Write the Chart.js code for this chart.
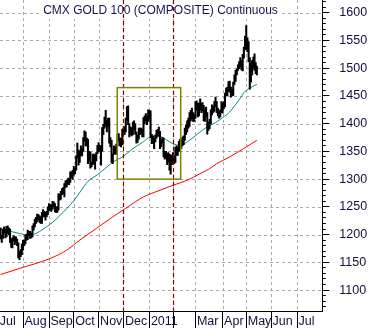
<!DOCTYPE html>
<html>
<head>
<meta charset="utf-8">
<script src="https://cdn.jsdelivr.net/npm/chart.js@4.4.0/dist/chart.umd.min.js"></script>
<style>
  html, body { margin: 0; padding: 0; background: #fff; }
  #wrap { width: 371px; height: 328px; position: relative; }
</style>
</head>
<body>
<div id="wrap"><canvas id="grafik"></canvas></div>
<script>
// === DATA ===
const judul = "CMX GOLD 100 (COMPOSITE) Continuous";

// trading-day index 0 = 1 Jul 2010; first bar drawn is day 2
const hariAwal = 2;

// daily lows / highs, Jul 2010 .. mid May 2011 (one line per month)
const lows = [
  1192,1186,1193,1203,1194,1196,1202,1200,1186,1177,1176,1188,1182,1185,1180,1158,1155,1160,1164,
  1172,1180,1183,1190,1191,1198,1193,1194,1196,1208,1214,1220,1223,1226,1222,1220,1220,1232,1232,1226,1232,1236,
  1243,1244,1242,1246,1250,1241,1240,1240,1244,1262,1264,1272,1274,1268,1285,1286,1291,1290,1294,1302,1300,
  1307,1310,1316,1338,1325,1330,1342,1342,1350,1368,1360,1360,1328,1334,1320,1322,1326,1328,1318,1333,1346,
  1349,1351,1325,1350,1380,1392,1395,1385,1394,1365,1358,1330,1328,1345,1345,1345,1360,1369,1360,1358,1362,
  1380,1380,1385,1405,1398,1376,1380,1378,1380,1390,1381,1365,1366,1372,1380,1382,1376,1376,1400,1405,1398,1404,
  1408,1375,1364,1365,1355,1367,1374,1378,1378,1355,1358,1365,1340,1336,1338,1326,1330,1316,1309,1326,
  1330,1328,1330,1343,1343,1350,1358,1355,1360,1362,1370,1380,1385,1392,1395,1405,1408,1404,1404,
  1410,1425,1412,1414,1425,1420,1423,1405,1404,1413,1381,1388,1391,1400,1416,1420,1422,1430,1420,1414,1410,1412,1420,
  1419,1427,1430,1450,1450,1458,1457,1448,1450,1451,1471,1476,1488,1496,1499,1502,1497,1495,1518,1533,
  1535,1530,1512,1462,1475,1488,1500,1496,1490,1488
];
const highs = [
  1212,1199,1210,1214,1210,1215,1216,1212,1210,1192,1194,1198,1196,1196,1192,1185,1170,1173,1183,
  1190,1190,1199,1201,1208,1206,1206,1203,1216,1220,1228,1231,1237,1236,1234,1232,1240,1245,1242,1240,1242,1250,
  1256,1254,1254,1260,1259,1256,1250,1250,1274,1273,1278,1283,1285,1292,1297,1298,1301,1302,1313,1313,1316,
  1323,1320,1342,1365,1353,1350,1360,1356,1375,1387,1385,1374,1372,1350,1349,1331,1345,1345,1344,1348,1361,
  1366,1361,1360,1393,1399,1412,1424,1406,1410,1410,1375,1370,1345,1360,1358,1363,1381,1382,1374,1374,1390,
  1392,1395,1410,1431,1432,1400,1394,1393,1403,1405,1400,1385,1380,1392,1392,1392,1390,1411,1414,1418,1414,1425,
  1424,1423,1381,1378,1374,1380,1388,1390,1394,1386,1371,1375,1374,1350,1350,1346,1348,1345,1344,1343,
  1348,1342,1358,1360,1358,1368,1372,1370,1376,1378,1392,1398,1405,1410,1420,1424,1428,1420,1416,
  1440,1441,1437,1437,1445,1437,1438,1433,1425,1430,1420,1403,1408,1425,1434,1432,1440,1448,1440,1428,1423,1425,1440,
  1437,1440,1455,1464,1466,1476,1477,1466,1462,1475,1488,1496,1499,1506,1512,1519,1514,1525,1538,1558,
  1577,1555,1548,1519,1510,1514,1520,1526,1510,1504
];

// moving averages (day index, price)
const tealDays = [2, 10, 18, 26, 32, 38, 46, 52, 58, 64, 70, 76, 84, 92, 98, 106, 114, 122, 130, 137, 143, 148, 154, 160, 168, 176, 184, 190, 196, 200, 205, 208, 213, 219];
const tealVals = [1210, 1206, 1202, 1199, 1202, 1210, 1222, 1234, 1247, 1261, 1279, 1296, 1308, 1322, 1332, 1341, 1355, 1366, 1377, 1377, 1370, 1364, 1361, 1367, 1380, 1393, 1402, 1411, 1421, 1432, 1446, 1456, 1464, 1471];
const redDays = [2, 18, 44, 58, 69, 83, 97, 109, 123, 137, 148, 160, 171, 179, 185, 196, 219];
const redVals = [1128, 1139, 1157, 1172, 1190, 1211, 1232, 1249, 1268, 1280, 1289, 1298, 1310, 1319, 1328, 1340, 1370];

// axis
const monthStarts = [0, 21, 43, 64, 85, 106, 128, 148, 167, 190, 210, 231, 253];
const monthLabels = ["Jul", "Aug", "Sep", "Oct", "Nov", "Dec", "2011", "", "Mar", "Apr", "May", "Jun", "Jul"];
const yTicks = [1100, 1150, 1200, 1250, 1300, 1350, 1400, 1450, 1500, 1550, 1600];

// annotations
const markerDays = [106, 148];
const boxDays = [100.8, 154.5];
const boxPrices = [1300, 1465];

const warnaGrid = "#a9a9a9";
const putus = [3, 3];

// === PLUGIN: dashed grid under the data ===
const gridPlugin = {
  id: "gridPutus",
  beforeDatasetsDraw(chart) {
    const ctx = chart.ctx;
    const area = chart.chartArea;
    const sx = chart.scales.x;
    const sy = chart.scales.y;
    ctx.save();
    ctx.strokeStyle = warnaGrid;
    ctx.lineWidth = 1;
    ctx.setLineDash(putus);
    sx.ticks.forEach(t => {
      const px = Math.round(sx.getPixelForValue(t.value)) + 0.5;
      if (px <= area.left || px >= area.right - 1) return;
      ctx.beginPath();
      ctx.moveTo(px, area.top);
      ctx.lineTo(px, area.bottom);
      ctx.stroke();
    });
    sy.ticks.forEach(t => {
      const py = Math.round(sy.getPixelForValue(t.value)) + 0.5;
      ctx.beginPath();
      ctx.moveTo(area.left, py);
      ctx.lineTo(area.right, py);
      ctx.stroke();
    });
    ctx.restore();
  }
};

// === PLUGIN: title + annotations ===
const hiasanPlugin = {
  id: "hiasan",
  afterDraw(chart) {
    const ctx = chart.ctx;
    const area = chart.chartArea;
    const sx = chart.scales.x;
    const sy = chart.scales.y;
    ctx.save();

    // title with white background
    ctx.font = '12px "Liberation Sans", Arial, sans-serif';
    const w = ctx.measureText(judul).width;
    const cx = 160.5;
    ctx.fillStyle = "#fff";
    ctx.fillRect(cx - w / 2 - 3, 0, w + 6, 19);
    ctx.fillStyle = "#141450";
    ctx.textAlign = "center";
    ctx.textBaseline = "alphabetic";
    ctx.fillText(judul, cx, 14);

    // dashed red verticals
    ctx.strokeStyle = "#8b0000";
    ctx.lineWidth = 1.2;
    ctx.setLineDash([4, 3]);
    markerDays.forEach(d => {
      const px = Math.round(sx.getPixelForValue(d)) + 0.5;
      ctx.beginPath();
      ctx.moveTo(px, area.top);
      ctx.lineTo(px, area.bottom);
      ctx.stroke();
    });

    // olive box
    ctx.setLineDash([]);
    ctx.strokeStyle = "#808000";
    ctx.lineWidth = 1.5;
    const x1 = sx.getPixelForValue(boxDays[0]);
    const x2 = sx.getPixelForValue(boxDays[1]);
    const y1 = sy.getPixelForValue(boxPrices[1]);
    const y2 = sy.getPixelForValue(boxPrices[0]);
    ctx.strokeRect(x1, y1, x2 - x1, y2 - y1);

    ctx.restore();
  }
};

// === CHART ===
const fontTick = { family: '"Liberation Sans", Arial, sans-serif', size: 12.5 };
const warnaTeks = "#10103c";

const barData = lows.map((lo, k) => ({ x: hariAwal + k, y: [lo, highs[k]] }));
const tealData = tealDays.map((d, k) => ({ x: d, y: tealVals[k] }));
const redData = redDays.map((d, k) => ({ x: d, y: redVals[k] }));

new Chart(document.getElementById("grafik"), {
  type: "bar",
  data: {
    datasets: [
      {
        type: "bar",
        data: barData,
        backgroundColor: "#000",
        borderWidth: 0,
        barThickness: 1.4,
        order: 0
      },
      {
        type: "line",
        data: tealData,
        borderColor: "#0a8a80",
        borderWidth: 1,
        pointRadius: 0,
        cubicInterpolationMode: "monotone",
        order: 1
      },
      {
        type: "line",
        data: redData,
        borderColor: "#ff0000",
        borderWidth: 1,
        pointRadius: 0,
        cubicInterpolationMode: "monotone",
        order: 2
      }
    ]
  },
  options: {
    responsive: true,
    maintainAspectRatio: false,
    animation: false,
    events: [],
    layout: { padding: 0 },
    plugins: { legend: { display: false }, tooltip: { enabled: false } },
    scales: {
      x: {
        type: "linear",
        position: "bottom",
        min: 1.5,
        max: 274.4,
        offset: false,
        afterBuildTicks: s => { s.ticks = monthStarts.map(v => ({ value: v })); },
        afterFit: s => { s.height = 16.3; s.paddingLeft = 0; s.paddingRight = 0; },
        grid: {
          drawOnChartArea: false, offset: false,
          drawTicks: true, tickLength: 17, tickColor: "#000", tickWidth: 1
        },
        border: { display: true, color: "#000", width: 1 },
        ticks: {
          autoSkip: false, maxRotation: 0, minRotation: 0,
          align: "start", labelOffset: 1.5, padding: -15,
          color: warnaTeks, font: fontTick,
          callback: (v, i) => monthLabels[i]
        }
      },
      yMinor: {
        type: "linear",
        position: "right",
        weight: 0,
        min: 1061,
        max: 1623,
        afterFit: s => { s.width = 0; s.paddingTop = 0; s.paddingBottom = 0; },
        grid: { drawOnChartArea: false, drawTicks: true, tickLength: 3.5, tickColor: "#000" },
        border: { display: false },
        ticks: { display: false, stepSize: 10, includeBounds: false }
      },
      y: {
        type: "linear",
        position: "right",
        weight: 1,
        min: 1061,
        max: 1623,
        afterBuildTicks: s => { s.ticks = yTicks.map(v => ({ value: v })); },
        afterFit: s => { s.width = 48.7; s.paddingTop = 0; s.paddingBottom = 0; },
        grid: { drawOnChartArea: false, drawTicks: true, tickLength: 7, tickColor: "#000" },
        border: { display: true, color: "#000", width: 1 },
        ticks: {
          padding: 10, crossAlign: "near",
          color: warnaTeks, font: fontTick,
          callback: v => String(v)
        }
      }
    }
  },
  plugins: [gridPlugin, hiasanPlugin]
});
</script>
</body>
</html>
